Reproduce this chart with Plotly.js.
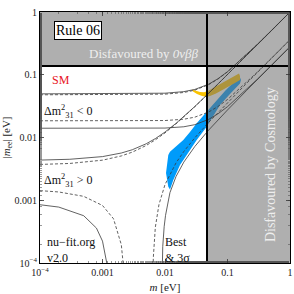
<!DOCTYPE html>
<html><head><meta charset="utf-8">
<script src="https://cdn.plot.ly/plotly-3.0.1.min.js"></script>
<style>html,body{margin:0;padding:0;background:#fff}</style>
</head><body><div id="chart" style="width:294px;height:294px"></div>
<script>
// ---- data ----
const cosmoLimit = 0.047;      // m upper limit [eV]
const bbLimit = 0.138;         // |m_ee| upper limit [eV]
const axisMin = 1e-4, axisMax = 1;

// Normal ordering (Δm31² > 0) boundaries
const mNOup = [1e-4, 3e-4, 1e-3, 2e-3, 3e-3, 5e-3, 7e-3, 0.01, 0.015, 0.02, 0.03, 0.05, 0.07, 0.1, 0.2, 0.5, 1];
const noBestUp = [0.003721, 0.003859, 0.004352, 0.005084, 0.005848, 0.007462, 0.009164, 0.011842, 0.016489, 0.021259, 0.030968, 0.050656, 0.070489, 0.100344, 0.200148, 0.499976, 0.999827];
const no3sUp   = [0.004367, 0.004497, 0.004961, 0.005656, 0.006387, 0.007942, 0.009598, 0.012216, 0.016799, 0.021526, 0.031179, 0.050811, 0.070613, 0.100445, 0.20023, 0.500093, 1.000047];

const mNOBestLowA = [1e-4, 2e-4, 5e-4, 1e-3, 1.5e-3, 2e-3, 2.2e-3, 2.3e-3];
const noBestLowA  = [0.001423, 0.001355, 0.001154, 0.000826, 0.000507, 0.000196, 0.000074, 0.00001];
const mNOBestLowB = [0.0063, 0.0065, 0.007, 0.008, 0.01, 0.015, 0.02, 0.03, 0.05, 0.07, 0.1, 0.2, 0.5, 1];
const noBestLowB  = [0.00002, 0.000121, 0.00037, 0.000851, 0.001778, 0.003941, 0.005981, 0.009892, 0.017444, 0.024851, 0.035856, 0.072252, 0.181024, 0.362173];

const mNO3sLowA = [1e-4, 2e-4, 5e-4, 8e-4, 1e-3, 1.2e-3, 1.25e-3, 1.28e-3];
const no3sLowA  = [0.000848, 0.000778, 0.000567, 0.00036, 0.000223, 0.000088, 0.000054, 0.00001];
const mNO3sLowB = [0.0088, 0.0092, 0.0097, 0.0102, 0.012, 0.015, 0.02, 0.03, 0.05, 0.07, 0.1, 0.2, 0.5, 1];
const no3sLowB  = [0.00002, 0.000182, 0.000379, 0.000574, 0.001323, 0.002387, 0.004054, 0.007191, 0.013139, 0.018917, 0.027455, 0.05557, 0.139407, 0.278953];

// Inverted ordering (Δm31² < 0) boundaries
const mIO = [1e-4, 1e-3, 3e-3, 5e-3, 0.01, 0.02, 0.03, 0.05, 0.07, 0.1, 0.2, 0.3, 0.5, 1];
const ioBestUp  = [0.04789, 0.04792, 0.04804, 0.04824, 0.04909, 0.05216, 0.05682, 0.06954, 0.08508, 0.1111, 0.2058, 0.3039, 0.5023, 1.0012];
const ioBestLow = [0.01846, 0.01844, 0.01843, 0.01845, 0.01863, 0.01955, 0.02109, 0.02552, 0.03105, 0.04037, 0.07451, 0.10995, 0.18169, 0.36204];
const io3sUp    = [0.04962, 0.04965, 0.04978, 0.04998, 0.05082, 0.05381, 0.05835, 0.07081, 0.08613, 0.1119, 0.2062, 0.30418, 0.50252, 1.00126];
const io3sLow   = [0.014055, 0.014036, 0.014012, 0.014015, 0.014132, 0.014817, 0.016008, 0.019459, 0.023764, 0.03101, 0.057443, 0.084835, 0.140248, 0.279524];

// Rule 06 predictions (bands, outline polygons)
const blueM   = [0.01038, 0.01129, 0.01202, 0.01539, 0.01963, 0.02512, 0.03215, 0.04647, 0.0631, 0.0912, 0.1271, 0.1585, 0.1644, 0.1585, 0.1096, 0.0759, 0.04647, 0.03215, 0.02224, 0.01738, 0.01358, 0.01202, 0.01129];
const blueMee = [0.00272, 0.00526, 0.00594, 0.00732, 0.00913, 0.01224, 0.01684, 0.02577, 0.0368, 0.0551, 0.0766, 0.0904, 0.0825, 0.0725, 0.0493, 0.0330, 0.01486, 0.00913, 0.00526, 0.00365, 0.00210, 0.00149, 0.00164];
const yellowM   = [0.02704, 0.03133, 0.03631, 0.04207, 0.04875, 0.06081, 0.07586, 0.09462, 0.1180, 0.1528, 0.1585, 0.1585, 0.1271, 0.1019, 0.08166, 0.06546, 0.05248, 0.04529, 0.03908, 0.03251, 0.02805];
const yellowMee = [0.0582, 0.0551, 0.0531, 0.0525, 0.0551, 0.0626, 0.0712, 0.0810, 0.0921, 0.1047, 0.0955, 0.0825, 0.0725, 0.0638, 0.0561, 0.0503, 0.0459, 0.0447, 0.0459, 0.0493, 0.0541];

const tickVals = [1e-4, 1e-3, 0.01, 0.1, 1];
const tickText = ['10<sup>\u22124</sup>', '0.001', '0.01', '0.1', '1'];

// ---- drawing ----
const FONT = 'Liberation Serif, Times New Roman, serif';
const lineCol = '#3a3a3a';
const grayFill = 'rgba(110,110,110,0.55)';
function curve(x, y, dashed) {
  return {x: x, y: y, type: 'scatter', mode: 'lines', hoverinfo: 'skip',
    line: {color: lineCol, width: 0.8, dash: dashed ? '3px,2px' : 'solid'}};
}
const traces = [
  {x: blueM, y: blueMee, type: 'scatter', mode: 'lines', fill: 'toself', fillcolor: 'rgb(0,155,250)', line: {width: 0}, hoverinfo: 'skip'},
  {x: yellowM, y: yellowMee, type: 'scatter', mode: 'lines', fill: 'toself', fillcolor: 'rgb(250,195,0)', line: {width: 0}, hoverinfo: 'skip'},
  {x: [axisMin, axisMax, axisMax, axisMin, axisMin], y: [bbLimit, bbLimit, axisMax, axisMax, bbLimit], type: 'scatter', mode: 'lines', fill: 'toself', fillcolor: grayFill, line: {width: 0}, hoverinfo: 'skip'},
  {x: [cosmoLimit, axisMax, axisMax, cosmoLimit, cosmoLimit], y: [axisMin, axisMin, bbLimit, bbLimit, axisMin], type: 'scatter', mode: 'lines', fill: 'toself', fillcolor: grayFill, line: {width: 0}, hoverinfo: 'skip'},
  curve(mNOup, noBestUp, true),
  curve(mNOup, no3sUp, false),
  curve(mNOBestLowA, noBestLowA, true),
  curve(mNOBestLowB, noBestLowB, true),
  curve(mNO3sLowA, no3sLowA, false),
  curve(mNO3sLowB, no3sLowB, false),
  curve(mIO, ioBestUp, true),
  curve(mIO, ioBestLow, true),
  curve(mIO, io3sUp, false),
  curve(mIO, io3sLow, false),
  {x: [axisMin, axisMax], y: [bbLimit, bbLimit], type: 'scatter', mode: 'lines', line: {color: '#000', width: 2}, hoverinfo: 'skip'},
  {x: [cosmoLimit, cosmoLimit], y: [axisMin, axisMax], type: 'scatter', mode: 'lines', line: {color: '#000', width: 2}, hoverinfo: 'skip'}
];

const axisCommon = {
  type: 'log', showgrid: false, zeroline: false, showline: true, linecolor: '#000', linewidth: 1,
  mirror: 'ticks', ticks: 'inside', ticklen: 4, tickwidth: 0.8, tickcolor: '#333',
  tickvals: tickVals, ticktext: tickText,
  tickfont: {family: FONT, size: 10, color: '#222'},
  minor: {ticks: 'inside', ticklen: 2, tickwidth: 0.6, tickcolor: '#555'}
};
function note(text, x, y, size, color, extra) {
  return Object.assign({text: text, xref: 'paper', yref: 'paper', x: x, y: y, xanchor: 'center', yanchor: 'middle',
    showarrow: false, font: {family: FONT, size: size, color: color}}, extra || {});
}
const layout = {
  width: 294, height: 294,
  margin: {l: 40, r: 4, t: 12, b: 31},
  paper_bgcolor: '#fff', plot_bgcolor: '#fff',
  showlegend: false,
  font: {family: FONT, color: '#222'},
  xaxis: Object.assign({}, axisCommon, {range: [-4, 0],
    title: {text: '<i>m</i> [eV]', font: {family: FONT, size: 11, color: '#222'}, standoff: 6}}),
  yaxis: Object.assign({}, axisCommon, {range: [-4, 0],
    title: {text: '|<i>m</i><sub>ee</sub>| [eV]', font: {family: FONT, size: 11, color: '#222'}, standoff: 4}}),
  annotations: [
    note('Rule 06', 0.15, 0.926, 14, '#000', {bgcolor: '#fff', bordercolor: '#000', borderwidth: 1, borderpad: 1}),
    note('Disfavoured by <i>0\u03bd\u03b2\u03b2</i>', 0.415, 0.835, 13, '#eeeeee'),
    note('Disfavoured by Cosmology', 0.92, 0.39, 14, '#eeeeee', {textangle: -90}),
    note('SM', 0.084, 0.729, 12, '#e8141e'),
    note('\u0394m<sup>2</sup><sub>31</sub> < 0', 0.006, 0.602, 12, '#111', {xanchor: 'left'}),
    note('\u0394m<sup>2</sup><sub>31</sub> > 0', 0.006, 0.33, 12, '#111', {xanchor: 'left'}),
    note('nu\u2212fit.org<br>v2.0', 0.02, 0.05, 12, '#111', {xanchor: 'left', align: 'left'}),
    note('Best<br>& 3\u03c3', 0.49, 0.05, 12, '#111', {xanchor: 'left', align: 'left'})
  ]
};
Plotly.newPlot('chart', traces, layout, {staticPlot: true, displayModeBar: false});
</script>
</body></html>
